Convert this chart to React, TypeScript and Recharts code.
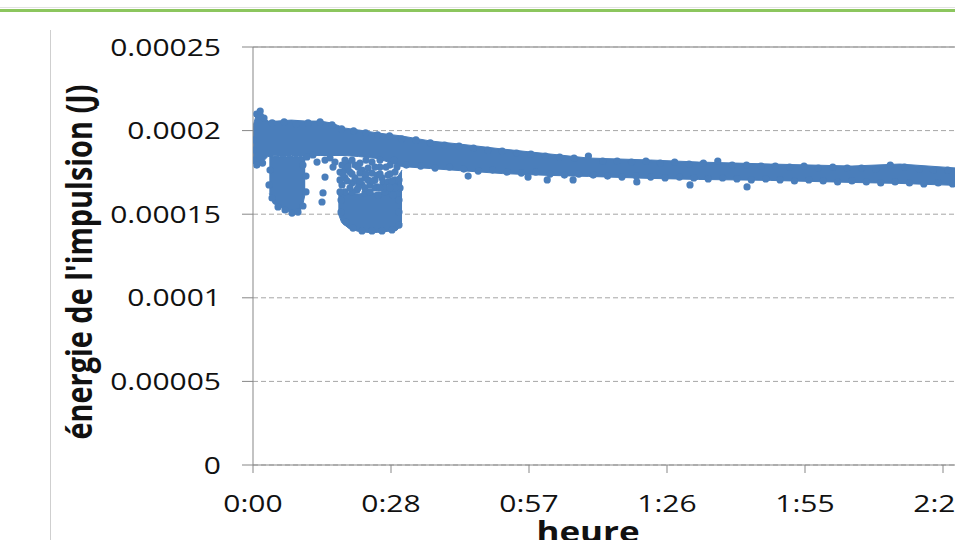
import { ComposedChart, Area, Scatter, XAxis, YAxis, CartesianGrid, ReferenceLine } from "recharts"

const BLUE = "#4a7ebb"

// x values are minutes since start, y values are pulse energy in J
const xTicks = [0, 28.8, 57.6, 86.4, 115.2, 144, 172.8]
const xTickLabels = ["0:00", "0:28", "0:57", "1:26", "1:55", "2:24", "2:52"]
const yTicks = [0, 0.00005, 0.0001, 0.00015, 0.0002, 0.00025]
const yTickLabels = ["0", "0.00005", "0.0001", "0.00015", "0.0002", "0.00025"]

// dense main cloud (upper / lower envelope)
const bandTime = [0, 0.8, 1.5, 2.3, 3.1, 5, 8, 11, 14, 16.5, 19, 22, 26, 31, 37, 43, 52, 62, 70, 83, 93, 108, 125, 135, 147, 160]
const bandHigh = [2.028e-4, 2.105e-4, 2.135e-4, 2.087e-4, 2.057e-4, 2.057e-4, 2.063e-4, 2.057e-4, 2.057e-4, 2.045e-4, 2.016e-4, 2.004e-4, 1.986e-4, 1.968e-4, 1.938e-4, 1.92e-4, 1.89e-4, 1.86e-4, 1.836e-4, 1.824e-4, 1.812e-4, 1.8e-4, 1.788e-4, 1.8e-4, 1.776e-4, 1.77e-4]
const bandLow = [1.803e-4, 1.803e-4, 1.803e-4, 1.821e-4, 1.845e-4, 1.851e-4, 1.851e-4, 1.851e-4, 1.851e-4, 1.851e-4, 1.851e-4, 1.845e-4, 1.833e-4, 1.785e-4, 1.773e-4, 1.761e-4, 1.743e-4, 1.732e-4, 1.726e-4, 1.714e-4, 1.708e-4, 1.702e-4, 1.69e-4, 1.684e-4, 1.672e-4, 1.666e-4]

// first drop (~0:04 - 0:11)
const dip1Time = [3.4, 4.2, 5.5, 7, 8.5, 9.5, 10.3, 10.9]
const dip1High = [1.845e-4, 1.845e-4, 1.845e-4, 1.845e-4, 1.845e-4, 1.845e-4, 1.845e-4, 1.845e-4]
const dip1Low = [1.624e-4, 1.564e-4, 1.546e-4, 1.522e-4, 1.504e-4, 1.51e-4, 1.546e-4, 1.624e-4]

// second drop (~0:18 - 0:31)
const dip2Time = [17.8, 18.5, 20, 22, 24, 26, 28, 30, 31.1]
const dip2High = [1.615e-4, 1.627e-4, 1.627e-4, 1.621e-4, 1.627e-4, 1.627e-4, 1.645e-4, 1.717e-4, 1.764e-4]
const dip2Low = [1.504e-4, 1.45e-4, 1.415e-4, 1.397e-4, 1.391e-4, 1.391e-4, 1.397e-4, 1.403e-4, 1.444e-4]

// single points along the edges of the cloud
const originTime = [0, 0, 0, 0.8, 2]
const originValue = [1.944e-4, 1.884e-4, 1.824e-4, 1.794e-4, 1.806e-4]

const topTime = [0.8, 1.5, 2.3, 4, 6.5, 9, 11.5, 14, 16.5, 18.5, 21, 23.5, 26, 28.5, 31, 34, 37, 40, 43, 46, 49, 52, 55, 58, 61, 64, 67, 70, 73, 76, 79, 82, 85, 88, 91, 94, 97, 100, 103, 106, 109, 112, 115, 118, 121, 124, 127, 130, 133, 136, 139, 142, 145, 148, 151, 154, 157]
const topValue = [2.099e-4, 2.117e-4, 2.075e-4, 2.046e-4, 2.052e-4, 2.04e-4, 2.046e-4, 2.052e-4, 2.034e-4, 2.01e-4, 1.998e-4, 1.986e-4, 1.974e-4, 1.968e-4, 1.95e-4, 1.944e-4, 1.926e-4, 1.914e-4, 1.908e-4, 1.896e-4, 1.884e-4, 1.878e-4, 1.866e-4, 1.86e-4, 1.848e-4, 1.842e-4, 1.836e-4, 1.848e-4, 1.818e-4, 1.818e-4, 1.812e-4, 1.818e-4, 1.806e-4, 1.812e-4, 1.8e-4, 1.806e-4, 1.818e-4, 1.794e-4, 1.794e-4, 1.788e-4, 1.788e-4, 1.782e-4, 1.788e-4, 1.776e-4, 1.782e-4, 1.776e-4, 1.776e-4, 1.77e-4, 1.794e-4, 1.782e-4, 1.77e-4, 1.764e-4, 1.764e-4, 1.758e-4, 1.764e-4, 1.758e-4, 1.752e-4]

const bottomTime = [32, 35, 38, 41, 44, 47, 50, 53, 56, 59, 62, 65, 68, 71, 74, 77, 80, 83, 86, 89, 92, 95, 98, 101, 104, 107, 110, 113, 116, 119, 122, 125, 128, 131, 134, 137, 140, 143, 146, 149, 152, 155, 158]
const bottomValue = [1.794e-4, 1.788e-4, 1.776e-4, 1.782e-4, 1.77e-4, 1.758e-4, 1.764e-4, 1.752e-4, 1.746e-4, 1.752e-4, 1.74e-4, 1.734e-4, 1.74e-4, 1.734e-4, 1.728e-4, 1.722e-4, 1.728e-4, 1.722e-4, 1.717e-4, 1.722e-4, 1.717e-4, 1.711e-4, 1.717e-4, 1.711e-4, 1.705e-4, 1.711e-4, 1.705e-4, 1.699e-4, 1.705e-4, 1.699e-4, 1.693e-4, 1.699e-4, 1.693e-4, 1.687e-4, 1.693e-4, 1.687e-4, 1.681e-4, 1.687e-4, 1.681e-4, 1.675e-4, 1.681e-4, 1.675e-4, 1.675e-4]

const outlierTime = [44.9, 57.4, 61.4, 66.8, 80.1, 91.2, 103.1]
const outlierValue = [1.728e-4, 1.722e-4, 1.705e-4, 1.705e-4, 1.693e-4, 1.675e-4, 1.663e-4]

const dip1EdgeTime = [3.55, 3.34, 3.97, 5.22, 6.68, 8.14, 9.39, 10.43, 11.06, 11.06]
const dip1EdgeValue = [1.764e-4, 1.675e-4, 1.597e-4, 1.543e-4, 1.525e-4, 1.507e-4, 1.513e-4, 1.549e-4, 1.633e-4, 1.728e-4]

const dip2EdgeTime = [18.37, 18.37, 19.41, 20.87, 22.75, 24.83, 26.92, 29.01, 30.47, 30.47, 30.47]
const dip2EdgeValue = [1.585e-4, 1.513e-4, 1.453e-4, 1.417e-4, 1.4e-4, 1.4e-4, 1.4e-4, 1.406e-4, 1.435e-4, 1.513e-4, 1.585e-4]

// scattered points above the second drop (patchy area)
const patchTime = [11.27, 12.52, 13.36, 15.03, 16.07, 17.11, 16.7, 18.57, 19.2, 18.16, 19.83, 21.29, 22.75, 22.33, 24.0, 24.83, 25.88, 26.92, 28.17, 29.63, 19.2, 18.57, 20.66, 21.91, 23.37, 24.42, 25.88, 27.13, 29.01, 19.2, 21.7, 23.37, 26.09, 27.55, 29.22, 15.03, 14.61, 14.4, 10.43, 30.47, 30.68, 18.16, 20.24, 21.29, 22.75, 24.0, 25.46, 28.17, 29.63, 29.63, 27.55, 24.42, 20.66, 18.16, 28.59, 26.5, 24.83, 22.33,
  19.2, 20.66, 23.58, 26.5, 29.43, 19.83, 21.91, 25.46, 27.76, 30.05, 18.78, 20.66, 23.58, 26.5, 28.59, 19.62, 22.33, 25.04, 29.01, 20.24, 21.91, 23.37, 25.46, 26.5, 28.59]
const patchValue = [1.842e-4, 1.854e-4, 1.812e-4, 1.824e-4, 1.836e-4, 1.812e-4, 1.782e-4, 1.794e-4, 1.764e-4, 1.752e-4, 1.806e-4, 1.794e-4, 1.764e-4, 1.746e-4, 1.776e-4, 1.746e-4, 1.734e-4, 1.717e-4, 1.734e-4, 1.752e-4, 1.717e-4, 1.675e-4, 1.687e-4, 1.693e-4, 1.717e-4, 1.675e-4, 1.663e-4, 1.687e-4, 1.675e-4, 1.633e-4, 1.645e-4, 1.627e-4, 1.615e-4, 1.633e-4, 1.615e-4, 1.722e-4, 1.627e-4, 1.573e-4, 1.794e-4, 1.705e-4, 1.657e-4, 1.705e-4, 1.752e-4, 1.717e-4, 1.675e-4, 1.705e-4, 1.705e-4, 1.693e-4, 1.705e-4, 1.657e-4, 1.657e-4, 1.633e-4, 1.633e-4, 1.633e-4, 1.794e-4, 1.782e-4, 1.812e-4, 1.806e-4,
  1.824e-4, 1.824e-4, 1.824e-4, 1.824e-4, 1.824e-4, 1.782e-4, 1.782e-4, 1.782e-4, 1.782e-4, 1.782e-4, 1.741e-4, 1.741e-4, 1.741e-4, 1.741e-4, 1.741e-4, 1.699e-4, 1.699e-4, 1.699e-4, 1.699e-4, 1.657e-4, 1.657e-4, 1.657e-4, 1.657e-4, 1.657e-4, 1.657e-4]

const toPoints = (ts: number[], vs: number[]) => ts.map((t, i) => ({ t, v: vs[i] }))
const toRange = (ts: number[], lo: number[], hi: number[]) => ts.map((t, i) => ({ t, range: [lo[i], hi[i]] }))

const bandData = toRange(bandTime, bandLow, bandHigh)
const dip1Data = toRange(dip1Time, dip1Low, dip1High)
const dip2Data = toRange(dip2Time, dip2Low, dip2High)
const dotGroups = [
  toPoints(originTime, originValue),
  toPoints(topTime, topValue),
  toPoints(bottomTime, bottomValue),
  toPoints(outlierTime, outlierValue),
  toPoints(dip1EdgeTime, dip1EdgeValue),
  toPoints(dip2EdgeTime, dip2EdgeValue),
  toPoints(patchTime, patchValue),
]

const SX = 1.25 // the source slide is stretched horizontally

const Dot = (p: any) => <circle cx={p.cx} cy={p.cy} r={3.6} fill={BLUE} />

const XTick = ({ x, y, index }: any) => (
  <text transform={`translate(${x},${y + 37}) scale(${SX},1)`} textAnchor="middle" fontFamily="Open Sans" fontSize={24} fill="#111">
    {xTickLabels[index]}
  </text>
)

const YTick = ({ x, y, index }: any) => (
  <text transform={`translate(${x},${y + 8.5}) scale(${SX},1)`} textAnchor="end" fontFamily="Open Sans" fontSize={24} fill="#111">
    {yTickLabels[index]}
  </text>
)

export default function App() {
  return (
    <div style={{ position: "fixed", left: 0, top: 0, width: 955, height: 540, overflow: "hidden", background: "#fff" }}>
      <div style={{ position: "absolute", left: 0, top: 7, width: 955, height: 1, background: "#e2e2e2" }} />
      <div style={{ position: "absolute", left: 0, top: 9, width: 955, height: 3, background: "#8cc65e" }} />
      <div style={{ position: "absolute", left: 50, top: 30, width: 1, height: 510, background: "#cfcfcf" }} />
      <div style={{ position: "absolute", left: 0, top: 0 }}>
        <ComposedChart width={1100} height={540} margin={{ top: 47, right: 19, bottom: 45, left: 0 }}>
          <CartesianGrid vertical={false} strokeDasharray="5 3" stroke="#a6a6a6" />
          <XAxis
            dataKey="t"
            type="number"
            domain={[0, 172.8]}
            ticks={xTicks}
            allowDataOverflow
            height={30}
            tickSize={8}
            stroke="#878787"
            tick={<XTick />}
            label={{
              content: () => (
                <text transform={`translate(588,542) scale(${SX},1)`} textAnchor="middle" fontFamily="Open Sans" fontWeight="bold" fontSize={28} fill="#111">
                  heure
                </text>
              ),
            }}
          />
          <YAxis
            type="number"
            domain={[0, 0.00025]}
            ticks={yTicks}
            allowDataOverflow
            width={253}
            tickSize={11}
            tickMargin={21}
            stroke="#878787"
            tick={<YTick />}
            label={{
              content: () => (
                <text transform={`translate(92,262) scale(${SX},1) rotate(-90)`} textAnchor="middle" fontFamily="Open Sans" fontWeight="bold" fontSize={28} textLength={355} lengthAdjust="spacingAndGlyphs" fill="#111">
                  énergie de l'impulsion (J)
                </text>
              ),
            }}
          />
          <ReferenceLine y={0.00025} stroke="#a6a6a6" strokeWidth={1.5} ifOverflow="visible" />
          <Area data={bandData} dataKey="range" type="linear" stroke={BLUE} strokeWidth={1} fill={BLUE} fillOpacity={1} dot={false} activeDot={false} isAnimationActive={false} />
          <Area data={dip1Data} dataKey="range" type="linear" stroke={BLUE} strokeWidth={1} fill={BLUE} fillOpacity={1} dot={false} activeDot={false} isAnimationActive={false} />
          <Area data={dip2Data} dataKey="range" type="linear" stroke={BLUE} strokeWidth={1} fill={BLUE} fillOpacity={1} dot={false} activeDot={false} isAnimationActive={false} />
          {dotGroups.map((g, i) => (
            <Scatter key={i} data={g} dataKey="v" fill={BLUE} shape={Dot} isAnimationActive={false} />
          ))}
        </ComposedChart>
      </div>
    </div>
  )
}
